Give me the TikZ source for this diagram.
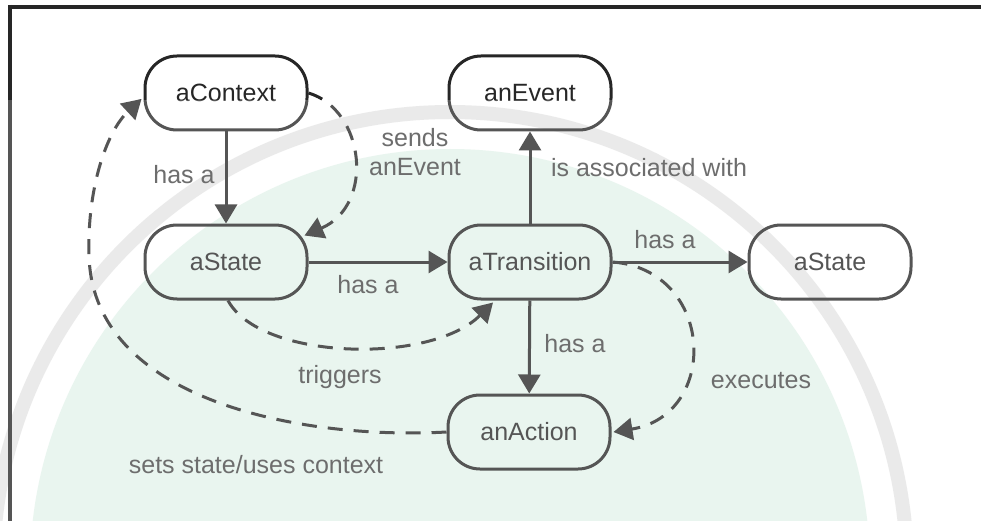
\documentclass[tikz,border=0pt]{standalone}
\usepackage{fontspec}
\setmainfont{Liberation Sans}
\usetikzlibrary{arrows.meta}
\definecolor{ink}{HTML}{262626}
\definecolor{labelc}{HTML}{454545}
\definecolor{tint}{RGB}{227,243,235}
\definecolor{band}{RGB}{229,229,229}
\begin{document}
\begin{tikzpicture}[x=1pt,y=-1pt,
  box/.style={draw=ink, line width=3pt, rounded corners=32pt, minimum width=162pt, minimum height=74pt, inner sep=0pt, text=ink, font=\fontsize{25}{29}\selectfont},
  lbl/.style={text=labelc, font=\fontsize{25}{29}\selectfont, inner sep=0pt},
  conn/.style={draw=ink, line width=3pt, -{Triangle[length=19pt,width=22pt]}},
  dconn/.style={conn, dash pattern=on 15pt off 11pt}]
\useasboundingbox (0,0) rectangle (981,521);
\fill[white] (0,0) rectangle (981,521);
% faint background seal
\begin{scope}
\clip (0,0) rectangle (981,521);
\fill[tint] (450,569) circle [radius=420pt];
\draw[band, line width=14pt] (450,569) circle [radius=457pt];
\end{scope}
% frame
\draw[ink, line width=4pt] (8,7) -- (981,7);
\draw[ink, line width=4pt] (10,5) -- (10,521);
% nodes
\node[box] (ctx) at (226,93) {aContext};
\node[box] (ev)  at (530,93) {anEvent};
\node[box] (st1) at (226,262) {aState};
\node[box] (tr)  at (530,262) {aTransition};
\node[box] (st2) at (830,262) {aState};
\node[box] (act) at (529,432) {anAction};
% solid connectors
\draw[conn] (ctx) -- (st1);
\draw[conn] (st1) -- (tr);
\draw[conn] (tr) -- (ev);
\draw[conn] (tr) -- (st2);
\draw[conn] (tr) -- (act);
% dashed connectors
\draw[dconn] (ctx.east) .. controls (365,110) and (375,205) .. ([shift={(-4,12)}]st1.north east);
\draw[dconn] ([shift={(2,0)}]st1.south) .. controls (260,360) and (430,365) .. ([shift={(-37,2)}]tr.south);
\draw[dconn] (tr.east) .. controls (715,270) and (720,415) .. ([shift={(2,0)}]act.east);
\draw[dconn] (act.west) .. controls (300,440) and (92,400) .. (89,255) .. controls (87,190) and (106,132) .. ([shift={(-2,6)}]ctx.west);
% labels
\node[lbl, anchor=base] (l1) at (184,184) {has a};
\node[lbl, align=center] (l2) at (415,152) {sends\\anEvent};
\node[lbl, anchor=base] (l3) at (368,293) {has a};
\node[lbl, anchor=base] (l4) at (649,177) {is associated with};
\node[lbl, anchor=base] (l5) at (665,248) {has a};
\node[lbl, anchor=base] (l6) at (575,352) {has a};
\node[lbl, anchor=base] (l7) at (761,388) {executes};
\node[lbl, anchor=base] (l8) at (340,383) {triggers};
\node[lbl, anchor=base] (l9) at (256,473) {sets state/uses context};
% faded lower part
\fill[white, opacity=0.22] (0,100) rectangle (981,521);
\end{tikzpicture}
\end{document}
